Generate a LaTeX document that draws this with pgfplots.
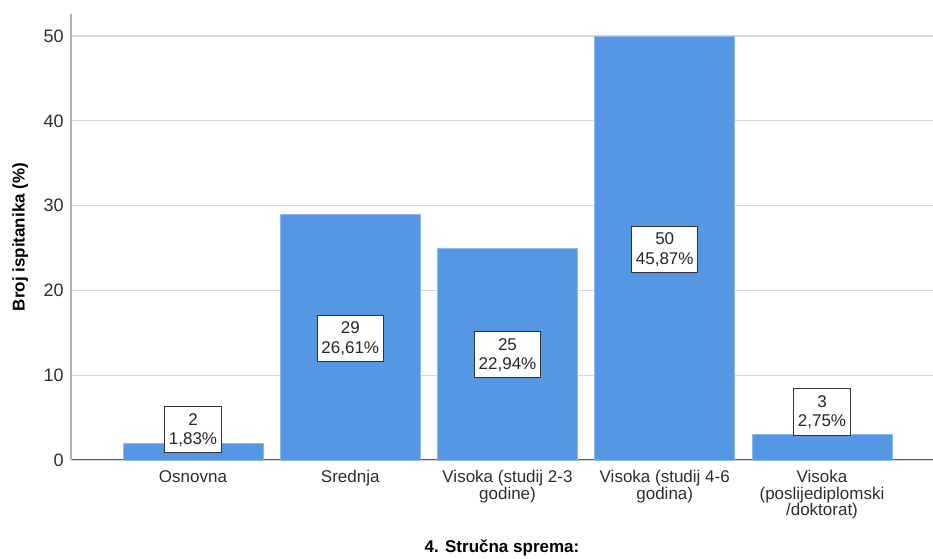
\documentclass[border=0pt]{standalone}
\usepackage{pgfplots}
\pgfplotsset{compat=1.18}
\usepackage{fontspec}
\setmainfont{Liberation Sans}
\definecolor{barblue}{RGB}{85,150,229}
\definecolor{baredge}{RGB}{140,185,240}
\definecolor{gridgray}{RGB}{215,215,215}
\definecolor{txtgray}{RGB}{45,45,45}
\begin{document}
\fontsize{12.75}{15}\selectfont
\begin{tikzpicture}
\useasboundingbox (-53.25pt,-74.25pt) rectangle (646.5pt,345pt);
\begin{axis}[
 at={(0,0)}, anchor=south west,
 scale only axis, width=646.5pt, height=334.5pt,
 xmin=-0.776, xmax=4.706, ymin=0, ymax=52.6,
 axis x line=bottom, axis y line=left,
 x axis line style={-, draw=black!65, line width=0.75pt},
 y axis line style={-, draw=black!30, line width=1.5pt},
 ytick={0,10,20,30,40,50},
 ymajorgrids, grid style={gridgray, line width=1pt},
 major tick length=0pt,
 xtick={0,1,2,3,4},
 xticklabels={Osnovna, Srednja, {Visoka (studij 2-3\\godine)}, {Visoka (studij 4-6\\godina)}, {Visoka\\(poslijediplomski\\/doktorat)}},
 xticklabel style={align=center, text=txtgray, font=\fontsize{12.75}{12.2}\selectfont, anchor=north, yshift=-3.5pt},
 yticklabel style={text=txtgray, font=\fontsize{13.5}{15}\selectfont, xshift=-1pt},
 /pgf/number format/assume math mode=true,
 ylabel={\bfseries Broj ispitanika (\%)},
 ylabel style={at={(axis description cs:-0.059,0.5)}, anchor=center, font=\fontsize{12.75}{15}\selectfont},
 xlabel={\bfseries 4. Stručna sprema:},
 xlabel style={at={(axis description cs:0.5,-0.197)}, anchor=center, font=\fontsize{12.75}{15}\selectfont},
 clip=false,
]
\addplot[ybar, bar width=0.89, fill=barblue, draw=baredge, line width=0.6pt] coordinates {
 (0,2) (1,29) (2,25) (3,50) (4,3)
};
\addplot[draw=none, mark=none, nodes near coords, point meta=explicit symbolic,
 nodes near coords style={anchor=center, align=center, draw=black!80, line width=0.75pt, fill=white, text=black!85, inner xsep=3pt, inner ysep=4.8pt, font=\fontsize{12.75}{14.5}\selectfont}]
 coordinates {
 (0,3.55) [{2\\1,83\%}]
 (1,14.3) [{29\\26,61\%}]
 (2,12.4) [{25\\22,94\%}]
 (3,24.8) [{50\\45,87\%}]
 (4,5.66) [{3\\2,75\%}]
};
\end{axis}
\end{tikzpicture}
\end{document}
